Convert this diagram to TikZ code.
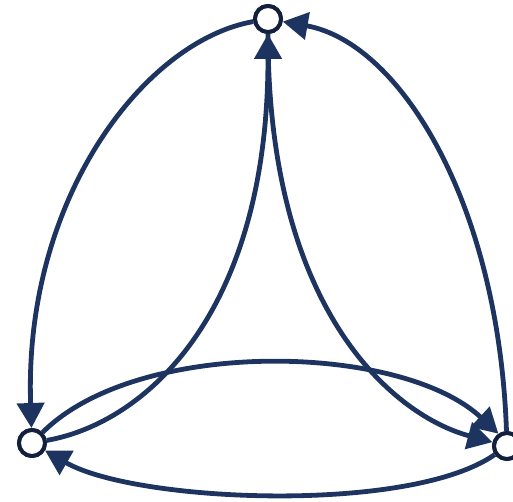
\documentclass[tikz,border=0pt]{standalone}
\usepackage{xcolor}
\usepackage{tikz}
\usetikzlibrary{arrows.meta}

\definecolor{edgenavy}{RGB}{30,52,96}
\definecolor{ringnavy}{RGB}{18,32,62}

\begin{document}
\begin{tikzpicture}[x=1pt, y=1pt,
    vert/.style={circle, draw=ringnavy, fill=white, line width=4pt, minimum size=26pt, inner sep=0pt},
    link/.style={draw, color=edgenavy, line width=4.8pt, -{Triangle[length=25pt,width=27pt]}}]
    \useasboundingbox (0,0) rectangle (513,501);

    \node[vert] (top) at (268,482) {};
    \node[vert] (left) at (32,58) {};
    \node[vert] (right) at (507,55) {};

    % outer arcs
    \path (top) edge[link, out=190, in=92, out distance=110pt, in distance=230pt] (left)
          (right) edge[link, out=92, in=-10, out distance=230pt, in distance=118pt] (top);
    % inner arcs
    \path (left) edge[link, out=10, in=-90, out distance=100pt, in distance=280pt] (top)
          (top) edge[link, out=-90, in=165, out distance=280pt, in distance=100pt] (right);
    % bottom loop
    \path (left) edge[link, out=45, in=137, out distance=134pt, in distance=134pt] (right.125)
          (right) edge[link, out=215, in=330, out distance=104pt, in distance=104pt] (left);

    % nodes on top of the lines
    \node[vert] at (top) {};
    \node[vert] at (left) {};
    \node[vert] at (right) {};
\end{tikzpicture}
\end{document}
